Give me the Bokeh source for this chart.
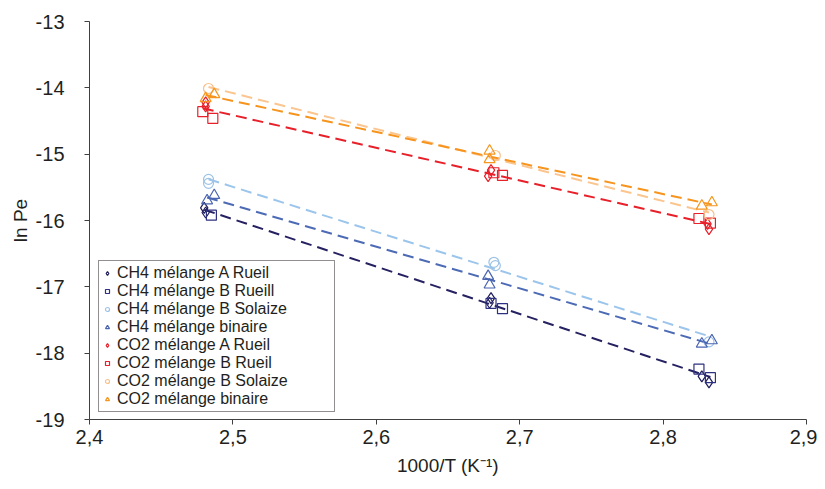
import numpy as np
from bokeh.plotting import figure
from bokeh.models import FixedTicker, Legend, LegendItem, Range1d
from bokeh.embed import file_html
from bokeh.resources import INLINE

# ---- data ----
x_ticks = [2.4, 2.5, 2.6, 2.7, 2.8, 2.9]
x_tick_labels = ["2,4", "2,5", "2,6", "2,7", "2,8", "2,9"]
y_ticks = [-19, -18, -17, -16, -15, -14, -13]
y_tick_labels = ["-19", "-18", "-17", "-16", "-15", "-14", "-13"]

names = ["CH4 mélange A Rueil", "CH4 mélange B Rueill", "CH4 mélange B Solaize",
         "CH4 mélange binaire", "CO2 mélange A Rueil", "CO2 mélange B Rueil",
         "CO2 mélange B Solaize", "CO2 mélange binaire"]

ch4_a_x = [2.480, 2.481, 2.679, 2.680, 2.827, 2.832]
ch4_a_y = [-15.81, -15.88, -17.24, -17.17, -18.35, -18.44]
ch4_b_x = [2.485, 2.680, 2.688, 2.825, 2.833]
ch4_b_y = [-15.92, -17.25, -17.33, -18.24, -18.37]
ch4_s_x = [2.483, 2.483, 2.682, 2.683, 2.832]
ch4_s_y = [-15.38, -15.44, -16.63, -16.68, -17.83]
ch4_bin_x = [2.487, 2.482, 2.678, 2.679, 2.827, 2.834]
ch4_bin_y = [-15.62, -15.70, -16.84, -16.97, -17.86, -17.81]

co2_a_x = [2.481, 2.481, 2.678, 2.680, 2.831, 2.832]
co2_a_y = [-14.22, -14.28, -15.33, -15.24, -16.05, -16.13]
co2_b_x = [2.479, 2.486, 2.682, 2.688, 2.825, 2.833]
co2_b_y = [-14.36, -14.46, -15.28, -15.32, -15.97, -16.04]
co2_s_x = [2.483, 2.683, 2.832]
co2_s_y = [-14.01, -15.02, -15.91]
co2_bin_x = [2.487, 2.481, 2.679, 2.679, 2.827, 2.834]
co2_bin_y = [-14.10, -14.16, -14.95, -15.08, -15.78, -15.73]

xs = [ch4_a_x, ch4_b_x, ch4_s_x, ch4_bin_x, co2_a_x, co2_b_x, co2_s_x, co2_bin_x]
ys = [ch4_a_y, ch4_b_y, ch4_s_y, ch4_bin_y, co2_a_y, co2_b_y, co2_s_y, co2_bin_y]

# ---- styles ----
markers = ["diamond", "square", "circle", "triangle"] * 2
sizes = [11, 10, 10, 11, 11, 10, 10, 11]
colors = ["#1F1D5C", "#2E3080", "#9DC3E6", "#4A64B0",
          "#E8202A", "#E8202A", "#F9C08A", "#F5961E"]

# trend lines: (series indices combined, colour)
trend_groups = [([0, 1], "#262262"), ([2], "#9CC5EC"), ([3], "#4D6BB5"),
                ([4, 5], "#E8202A"), ([6], "#FBC58F"), ([7], "#F7941D")]

p = figure(width=817, height=481, output_backend="svg", toolbar_location=None,
           x_range=Range1d(2.4, 2.9), y_range=Range1d(-19, -13),
           min_border_left=89, min_border_right=11, min_border_top=21,
           min_border_bottom=62, background_fill_color="white",
           border_fill_color="white")
p.outline_line_color = None
p.grid.visible = False

for idx, col in trend_groups:
    gx = np.concatenate([xs[i] for i in idx])
    gy = np.concatenate([ys[i] for i in idx])
    k, b = np.polyfit(gx, gy, 1)
    lx = np.array([gx.min(), gx.max()])
    p.line(lx, k * lx + b, line_color=col, line_width=2, line_dash="11 6")

items = []
for i in range(8):
    r = p.scatter(xs[i], ys[i], marker=markers[i], size=sizes[i],
                  fill_color=None, line_color=colors[i], line_width=1.2)
    items.append(LegendItem(label=names[i], renderers=[r]))

legend = Legend(items=items, location=(9, 7), padding=3, spacing=0,
                label_height=18, glyph_height=18, glyph_width=10,
                label_standoff=5, label_width=214,
                label_text_font="Liberation Sans", label_text_font_size="16px",
                label_text_color="#231F20", border_line_color="#231F20",
                border_line_width=1, background_fill_color="white",
                background_fill_alpha=1.0, margin=0)
p.add_layout(legend, "center")

p.xaxis.ticker = FixedTicker(ticks=x_ticks)
p.yaxis.ticker = FixedTicker(ticks=y_ticks)
p.xaxis.major_label_overrides = dict(zip(x_ticks, x_tick_labels))
p.yaxis.major_label_overrides = dict(zip(y_ticks, y_tick_labels))

for ax in (p.xaxis[0], p.yaxis[0]):
    ax.axis_line_color = "#404040"
    ax.axis_line_width = 1
    ax.major_tick_line_color = "#404040"
    ax.major_tick_in = 0
    ax.major_tick_out = 5
    ax.minor_tick_line_color = None
    ax.major_label_text_font = "Liberation Sans"
    ax.major_label_text_font_size = "20px"
    ax.major_label_text_color = "#231F20"
    ax.axis_label_text_font = "Liberation Sans"
    ax.axis_label_text_font_size = "19px"
    ax.axis_label_text_font_style = "normal"
    ax.axis_label_text_color = "#231F20"

p.xaxis.axis_label = "1000/T (K⁻¹)"
p.yaxis.axis_label = "ln Pe"
p.xaxis.major_label_standoff = 5
p.xaxis.axis_label_standoff = 8
p.yaxis.major_label_standoff = 20
p.yaxis.axis_label_standoff = 2

open("out.html", "w").write(file_html(p, INLINE))
